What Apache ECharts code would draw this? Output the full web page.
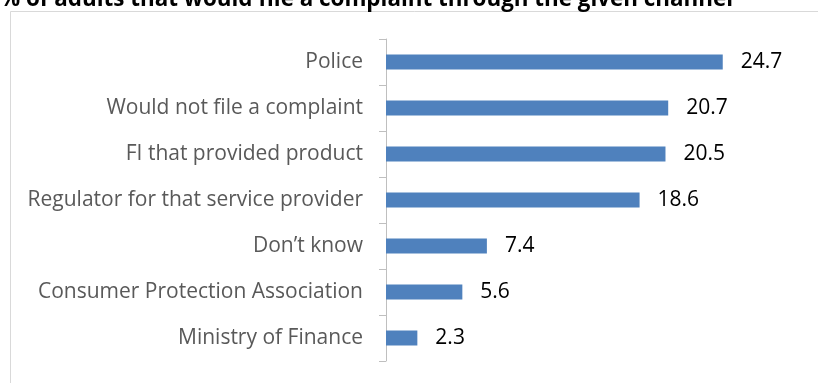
<!DOCTYPE html>
<html>
<head>
<meta charset="utf-8">
<script src="https://cdn.jsdelivr.net/npm/echarts@6/dist/echarts.min.js"></script>
<style>
  html, body { margin: 0; padding: 0; background: #fff; }
  #chart { width: 818px; height: 383px; }
</style>
</head>
<body>
<div id="chart"></div>
<script>
// Complaint channels, listed top to bottom
const categories = [
  'Police',
  'Would not file a complaint',
  'FI that provided product',
  'Regulator for that service provider',
  'Don\u2019t know',
  'Consumer Protection Association',
  'Ministry of Finance'
];
// Share of adults (%) choosing each channel
const shares = [24.7, 20.7, 20.5, 18.6, 7.4, 5.6, 2.3];

const chart = echarts.init(document.getElementById('chart'), null, { renderer: 'canvas' });

chart.setOption({
  animation: false,
  backgroundColor: '#ffffff',
  title: {
    text: '% of adults that would file a complaint through the given channel',
    left: 0,
    top: -11,
    padding: 0,
    textStyle: { fontFamily: 'Open Sans', fontWeight: 'bold', fontSize: 22.4, color: '#000000' }
  },
  graphic: [{
    type: 'rect',
    shape: { x: 10.5, y: 11.5, width: 900, height: 500 },
    style: { fill: 'none', stroke: '#d9d9d9', lineWidth: 1 },
    silent: true,
    z: -1
  }],
  grid: { left: 386, top: 39, bottom: 22, width: 409, containLabel: false },
  xAxis: {
    type: 'value',
    min: 0,
    max: 30,
    show: false
  },
  yAxis: {
    type: 'category',
    data: categories,
    inverse: true,
    axisLine: { show: true, lineStyle: { color: '#bfbfbf', width: 1 } },
    axisTick: { show: true, length: 7, lineStyle: { color: '#bfbfbf' } },
    axisLabel: { margin: 23, fontFamily: 'Open Sans', fontSize: 21, color: '#595959' },
    splitLine: { show: false }
  },
  series: [{
    type: 'bar',
    data: shares,
    barWidth: 15,
    itemStyle: { color: '#4f81bd' },
    label: {
      show: true,
      position: 'right',
      distance: 18,
      fontFamily: 'Open Sans',
      fontSize: 21,
      color: '#000000',
      formatter: p => p.value.toFixed(1)
    }
  }]
});
</script>
</body>
</html>
